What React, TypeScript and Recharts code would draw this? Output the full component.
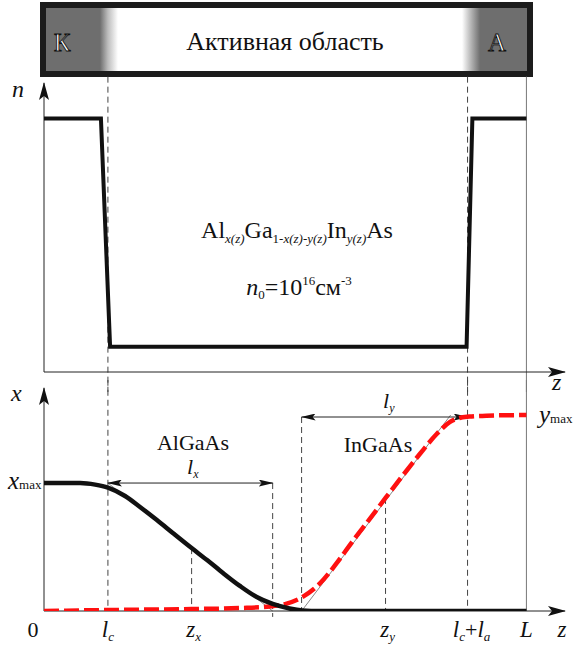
import { LineChart, Line, XAxis, YAxis, ReferenceLine } from "recharts";

// positions along z (L = 100)
const L = 100;
const lc = 13.25;
const zx = 30.6;
const lxEnd = 47.4;
const lyStart = 53.4;
const zy = 70.8;
const lcla = 87.8;
const zMax = 108;

// n(z) doping profile
const nZ = [0, 11.8, 13.7, 87.6, 88.8, 100];
const nVal = [1, 1, 0.1, 0.1, 1, 1];

// x(z) – AlGaAs fraction (black)
const xZ = [0, 7.5, 10.6, 13.25, 16.8, 19.9, 23.4, 26.7, 30.6, 33.8, 37.1, 40.6, 44.1, 47.4, 50.9, 53.6, 57.1, 100];
const xVal = [0.653, 0.653, 0.645, 0.63, 0.587, 0.531, 0.464, 0.398, 0.321, 0.26, 0.194, 0.128, 0.071, 0.036, 0.013, 0.003, 0, 0];

// y(z) – InGaAs fraction (red dashed)
const yZ = [0, 13.25, 30.6, 40.6, 46.8, 50.3, 53.4, 57.1, 60.7, 64.0, 67.5, 70.8, 74.3, 77.9, 81.4, 84.1, 86.1, 88.2, 91.7, 100];
const yVal = [0, 0.005, 0.01, 0.015, 0.023, 0.038, 0.069, 0.138, 0.245, 0.357, 0.469, 0.577, 0.689, 0.801, 0.903, 0.964, 0.985, 0.992, 0.997, 1];

const xMax = 0.653;
const yMax = 1;
const lyLevel = 0.99;

const bottomTicks = [0, lc, zx, zy, lcla, L, zMax];

const nData = nZ.map((z, i) => ({ z, v: nVal[i] }));
const xData = xZ.map((z, i) => ({ z, v: xVal[i] }));
const yData = yZ.map((z, i) => ({ z, v: yVal[i] }));

const serif = "Liberation Serif, DejaVu Serif, serif";

const arrowShape = (start: boolean, end: boolean, big = false) => (p: any) => (
  <line
    x1={p.x1}
    y1={p.y1}
    x2={p.x2}
    y2={p.y2}
    stroke={p.stroke}
    strokeWidth={p.strokeWidth}
    markerStart={start ? `url(#${big ? "arrBig" : "arrSmall"})` : undefined}
    markerEnd={end ? `url(#${big ? "arrBig" : "arrSmall"})` : undefined}
  />
);

function BottomTick(props: any) {
  const { x, y, payload } = props;
  const v = payload.value;
  const base = y + 26;
  const big = { fontSize: 23, fontStyle: "italic" as const };
  const sub = { fontSize: 13, fontStyle: "italic" as const };
  let content: any = null;
  let dx = 0;
  if (v === 0) {
    dx = -11;
    content = <tspan style={{ fontSize: 22 }}>0</tspan>;
  } else if (v === lc) {
    content = (
      <>
        <tspan style={big}>l</tspan>
        <tspan style={sub} dy={4}>c</tspan>
      </>
    );
  } else if (v === zx) {
    dx = 2;
    content = (
      <>
        <tspan style={big}>z</tspan>
        <tspan style={sub} dy={4}>x</tspan>
      </>
    );
  } else if (v === zy) {
    dx = 2;
    content = (
      <>
        <tspan style={big}>z</tspan>
        <tspan style={sub} dy={4}>y</tspan>
      </>
    );
  } else if (v === lcla) {
    dx = 4;
    content = (
      <>
        <tspan style={big}>l</tspan>
        <tspan style={sub} dy={4}>c</tspan>
        <tspan style={{ fontSize: 22 }} dy={-4}>+</tspan>
        <tspan style={big}>l</tspan>
        <tspan style={sub} dy={4}>a</tspan>
      </>
    );
  } else if (v === L) {
    content = <tspan style={big}>L</tspan>;
  } else {
    dx = -3;
    content = <tspan style={big}>z</tspan>;
  }
  return (
    <text x={x + dx} y={base} textAnchor="middle" fill="#111" style={{ fontFamily: serif }}>
      {content}
    </text>
  );
}

export default function App() {
  const thin = "#222";
  const dash = "#444";
  return (
    <div style={{ position: "absolute", left: 0, top: 0, width: 573, height: 648, background: "#fff", fontFamily: serif }}>
      <svg width={0} height={0} style={{ position: "absolute" }}>
        <defs>
          <marker id="arrBig" viewBox="0 0 18 10" refX={17} refY={5} markerWidth={18} markerHeight={10} markerUnits="userSpaceOnUse" orient="auto-start-reverse">
            <path d="M0,0 L18,5 L0,10 L4,5 Z" fill="#111" />
          </marker>
          <marker id="arrSmall" viewBox="0 0 15 7" refX={14} refY={3.5} markerWidth={15} markerHeight={7} markerUnits="userSpaceOnUse" orient="auto-start-reverse">
            <path d="M0,0 L15,3.5 L0,7 L3,3.5 Z" fill="#111" />
          </marker>
        </defs>
      </svg>

      {/* device bar */}
      <div
        style={{
          position: "absolute",
          left: 40,
          top: 2,
          width: 493,
          height: 75,
          boxSizing: "border-box",
          border: "6px solid #1c1c1c",
          background:
            "linear-gradient(to right, #6e6e6e 0px, #6e6e6e 54px, #bdbdbd 62px, #fff 72px, #fff 416px, #bdbdbd 424px, #6e6e6e 434px, #6e6e6e 100%)",
        }}
      />

      <div style={{ position: "absolute", left: 0, top: 0 }}>
        <LineChart width={573} height={392} margin={{ top: 83, right: 8, bottom: 20, left: 44 }}>
          <XAxis type="number" dataKey="z" domain={[0, zMax]} hide allowDataOverflow />
          <YAxis type="number" domain={[0, 1.14]} hide allowDataOverflow />
          <ReferenceLine segment={[{ x: lc, y: 1.165 }, { x: lc, y: -0.08 }]} stroke={dash} strokeDasharray="6 4" ifOverflow="visible" />
          <ReferenceLine segment={[{ x: lcla, y: 1.165 }, { x: lcla, y: -0.08 }]} stroke={dash} strokeDasharray="6 4" ifOverflow="visible" />
          <ReferenceLine segment={[{ x: L, y: 1.165 }, { x: L, y: -0.08 }]} stroke="#777" strokeWidth={1} ifOverflow="visible" />
          <ReferenceLine segment={[{ x: 0, y: 0 }, { x: zMax, y: 0 }]} stroke={thin} strokeWidth={1} ifOverflow="visible" shape={arrowShape(false, true, true)} />
          <ReferenceLine segment={[{ x: 0, y: 0 }, { x: 0, y: 1.14 }]} stroke={thin} strokeWidth={1} ifOverflow="visible" shape={arrowShape(false, true, true)} />
          <Line data={nData} dataKey="v" type="linear" stroke="#111" strokeWidth={4} dot={false} isAnimationActive={false} />
        </LineChart>
      </div>

      <div style={{ position: "absolute", left: 0, top: 380 }}>
        <LineChart width={573} height={268} margin={{ top: 8, right: 8, bottom: 7, left: 44 }}>
          <XAxis
            type="number"
            dataKey="z"
            domain={[0, zMax]}
            allowDataOverflow
            ticks={bottomTicks}
            interval={0}
            axisLine={false}
            tickLine={false}
            tickSize={0}
            tickMargin={0}
            height={30}
            tick={<BottomTick />}
          />
          <YAxis type="number" domain={[0, 1.138]} hide allowDataOverflow />
          <ReferenceLine segment={[{ x: lc, y: 1.18 }, { x: lc, y: 0 }]} stroke={dash} strokeDasharray="6 4" ifOverflow="visible" />
          <ReferenceLine segment={[{ x: lcla, y: 1.18 }, { x: lcla, y: 0 }]} stroke={dash} strokeDasharray="6 4" ifOverflow="visible" />
          <ReferenceLine segment={[{ x: L, y: 1.18 }, { x: L, y: 0 }]} stroke="#777" strokeWidth={1} ifOverflow="visible" />
          <ReferenceLine segment={[{ x: zx, y: 0.321 }, { x: zx, y: 0 }]} stroke={dash} strokeDasharray="6 4" ifOverflow="visible" />
          <ReferenceLine segment={[{ x: lxEnd, y: xMax }, { x: lxEnd, y: -0.03 }]} stroke={dash} strokeDasharray="6 4" ifOverflow="visible" />
          <ReferenceLine segment={[{ x: lyStart, y: lyLevel }, { x: lyStart, y: 0 }]} stroke={dash} strokeDasharray="6 4" ifOverflow="visible" />
          <ReferenceLine segment={[{ x: zy, y: 0.577 }, { x: zy, y: 0 }]} stroke={dash} strokeDasharray="6 4" ifOverflow="visible" />
          <ReferenceLine segment={[{ x: lc, y: xMax }, { x: lxEnd, y: 0 }]} stroke="#555" strokeWidth={0.7} ifOverflow="visible" />
          <ReferenceLine segment={[{ x: lyStart, y: 0 }, { x: 84.3, y: yMax }]} stroke="#555" strokeWidth={0.7} ifOverflow="visible" />
          <ReferenceLine segment={[{ x: lc, y: xMax }, { x: lxEnd, y: xMax }]} stroke={thin} strokeWidth={1} ifOverflow="visible" shape={arrowShape(true, true)} />
          <ReferenceLine segment={[{ x: lyStart, y: lyLevel }, { x: lcla, y: lyLevel }]} stroke={thin} strokeWidth={1} ifOverflow="visible" shape={arrowShape(true, true)} />
          <ReferenceLine segment={[{ x: 0, y: 0 }, { x: zMax, y: 0 }]} stroke={thin} strokeWidth={1} ifOverflow="visible" shape={arrowShape(false, true, true)} />
          <ReferenceLine segment={[{ x: 0, y: 0 }, { x: 0, y: 1.138 }]} stroke={thin} strokeWidth={1} ifOverflow="visible" shape={arrowShape(false, true, true)} />
          <Line data={yData} dataKey="v" type="monotone" stroke="#ff1010" strokeWidth={4.5} strokeDasharray="15 5" dot={false} isAnimationActive={false} />
          <Line data={xData} dataKey="v" type="monotone" stroke="#111" strokeWidth={4.5} dot={false} isAnimationActive={false} />
        </LineChart>
      </div>

      {/* annotations */}
      <svg width={573} height={648} style={{ position: "absolute", left: 0, top: 0, pointerEvents: "none", fontFamily: serif }} fill="#111">
        <text x={62} y={51} textAnchor="middle" fontSize={25} fill="#fff" stroke="#111" strokeWidth={0.9}>К</text>
        <text x={497} y={51} textAnchor="middle" fontSize={25} fill="#fff" stroke="#111" strokeWidth={0.9}>А</text>
        <text x={285} y={50} textAnchor="middle" fontSize={26}>Активная область</text>

        <text x={12} y={97} fontSize={24} fontStyle="italic">n</text>
        <text x={552} y={390} fontSize={24} fontStyle="italic">z</text>

        <text x={297} y={238} textAnchor="middle" fontSize={24}>
          <tspan>Al</tspan>
          <tspan fontSize={13} fontStyle="italic" dy={5}>x(z)</tspan>
          <tspan dy={-5}>Ga</tspan>
          <tspan fontSize={13} dy={5}>1-</tspan>
          <tspan fontSize={13} fontStyle="italic">x(z)-y(z)</tspan>
          <tspan dy={-5}>In</tspan>
          <tspan fontSize={13} fontStyle="italic" dy={5}>y(z)</tspan>
          <tspan dy={-5}>As</tspan>
        </text>
        <text x={299} y={295} textAnchor="middle" fontSize={24}>
          <tspan fontStyle="italic">n</tspan>
          <tspan fontSize={13} dy={4}>0</tspan>
          <tspan dy={-4}>=10</tspan>
          <tspan fontSize={13} dy={-10}>16</tspan>
          <tspan dy={10}>см</tspan>
          <tspan fontSize={13} dy={-10}>-3</tspan>
        </text>

        <text x={11} y={401} fontSize={24} fontStyle="italic">x</text>
        <text x={8} y={489} fontSize={25}>
          <tspan fontStyle="italic">x</tspan>
          <tspan fontSize={13}>max</tspan>
        </text>
        <text x={539} y={423} fontSize={25}>
          <tspan fontStyle="italic">y</tspan>
          <tspan fontSize={13}>max</tspan>
        </text>

        <text x={193} y={450} textAnchor="middle" fontSize={22}>AlGaAs</text>
        <text x={187} y={474} fontSize={22}>
          <tspan fontStyle="italic">l</tspan>
          <tspan fontSize={12} fontStyle="italic" dy={4}>x</tspan>
        </text>
        <text x={378} y={452} textAnchor="middle" fontSize={22}>InGaAs</text>
        <text x={383} y={408} fontSize={22}>
          <tspan fontStyle="italic">l</tspan>
          <tspan fontSize={12} fontStyle="italic" dy={4}>y</tspan>
        </text>
      </svg>
    </div>
  );
}
